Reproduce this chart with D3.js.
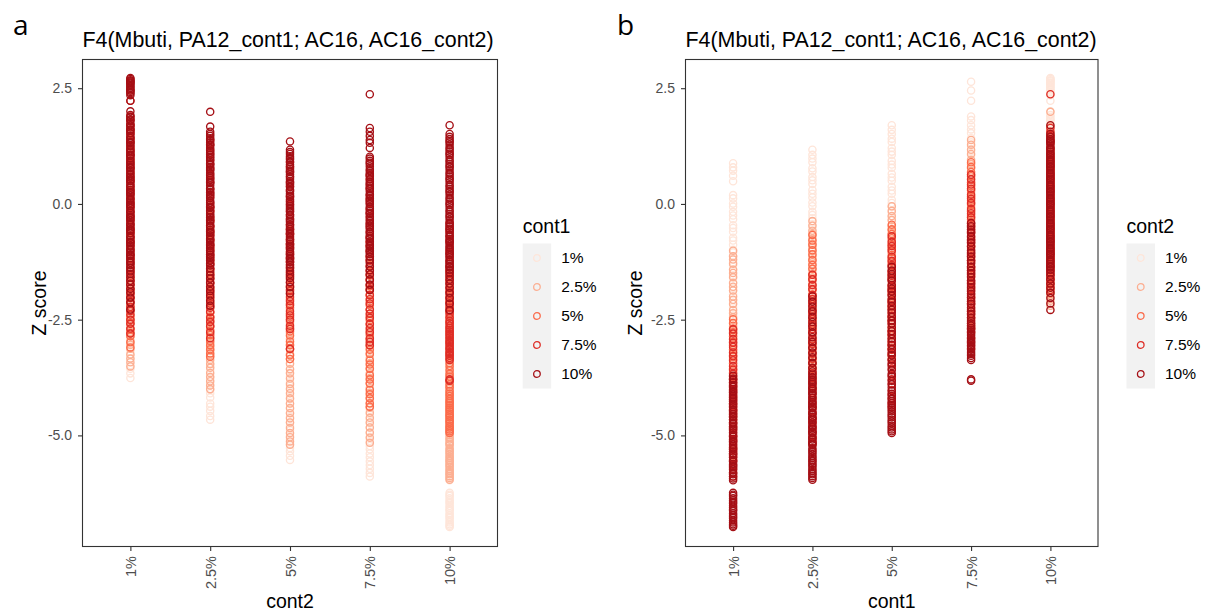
<!DOCTYPE html>
<html>
<head>
<meta charset="utf-8">
<script src="https://cdn.jsdelivr.net/npm/d3@7"></script>
<style>
  body { margin: 0; background: #ffffff; }
  svg text { font-family: "Liberation Sans", Arial, Helvetica, sans-serif; }
</style>
</head>
<body>
<svg id="chart" width="1205" height="613"></svg>
<script>
// Contamination levels (shared by cont1 and cont2)
const levels = ["1%", "2.5%", "5%", "7.5%", "10%"];
const levelColors = ["#fee5d9", "#fcae91", "#fb6a4a", "#de2d26", "#a50f15"];
const zTicks = [2.5, 0, -2.5, -5];
const zTickLabels = ["2.5", "0.0", "-2.5", "-5.0"];

// Z scores for cont1 = 1%; one list per cont2 level
const zCont1At1 = [
  [0.88, 0.79, 0.72, 0.61, 0.49, 0.19, 0.12, 0.01, -0.06, -0.17, -0.25, -0.33, -0.46, -0.52, -0.60, -0.73, -0.79, -0.88, -0.99, -1.05, -1.14, -1.26, -1.33, -1.41, -1.54, -1.60, -1.69, -1.81, -1.87, -1.95, -2.08, -2.14, -2.23, -2.35, -2.41, -2.50, -2.63, -2.70, -2.78, -2.91, -2.97, -3.06, -3.19, -3.27, -3.35, -3.48, -3.56, -3.66, -3.76],
  [-1.01, -1.13, -1.20, -1.29, -1.42, -1.49, -1.58, -1.71, -1.79, -1.87, -2.00, -2.07, -2.16, -2.29, -2.36, -2.45, -2.58, -2.64, -2.74, -2.86, -2.93, -3.03, -3.15, -3.22, -3.31, -3.44, -3.51, -3.60, -3.73, -3.80, -3.89, -4.02, -4.09, -4.18, -4.31, -4.38, -4.47, -4.58, -4.66],
  [-2.49, -2.57, -2.69, -2.77, -2.86, -2.98, -3.06, -3.15, -3.27, -3.35, -3.44, -3.56, -3.64, -3.73, -3.85, -3.93, -4.02, -4.14, -4.22, -4.31, -4.43, -4.51, -4.60, -4.72, -4.80, -4.89, -5.01, -5.09, -5.18, -5.27, -5.34, -5.44, -5.53],
  [-2.71, -2.80, -2.92, -3.00, -3.09, -3.21, -3.29, -3.38, -3.50, -3.58, -3.67, -3.79, -3.87, -3.96, -4.08, -4.16, -4.25, -4.37, -4.45, -4.54, -4.66, -4.74, -4.83, -4.95, -5.03, -5.12, -5.23, -5.30, -5.39, -5.47, -5.56, -5.64, -5.72, -5.81, -5.89],
  [-3.71, -3.77, -3.80, -3.85, -3.91, -3.95, -4.00, -4.04, -4.07, -4.12, -4.18, -4.22, -4.27, -4.31, -4.34, -4.39, -4.45, -4.49, -4.54, -4.58, -4.61, -4.66, -4.72, -4.76, -4.81, -4.85, -4.88, -4.93, -4.99, -5.03, -5.08, -5.12, -5.15, -5.20, -5.26, -5.30, -5.35, -5.39, -5.42, -5.47, -5.53, -5.57, -5.62, -5.66, -5.69, -5.74, -5.80, -5.84, -5.89, -5.93, -5.97, -6.24, -6.28, -6.31, -6.36, -6.40, -6.44, -6.47, -6.52, -6.56, -6.60, -6.63, -6.68, -6.72, -6.76, -6.79, -6.84, -6.88, -6.92, -6.95, -6.98]
];

// Z scores for cont1 = 2.5%
const zCont1At2_5 = [
  [1.17, 1.06, 0.98, 0.90, 0.77, 0.70, 0.58, 0.51, 0.43, 0.30, 0.22, 0.14, 0.03, -0.05, -0.17, -0.24, -0.31, -0.44, -0.53, -0.61, -0.70, -0.82, -0.89, -0.97, -1.10, -1.18, -1.25, -1.37, -1.46, -1.55, -1.63, -1.74, -1.83, -1.90, -2.02, -2.11, -2.18, -2.30, -2.39, -2.47, -2.57, -2.68, -2.76, -2.85, -2.96, -3.04, -3.13, -3.25, -3.34, -3.42, -3.51],
  [-0.37, -0.47, -0.58, -0.65, -0.75, -0.86, -0.94, -1.02, -1.14, -1.22, -1.30, -1.41, -1.50, -1.59, -1.68, -1.79, -1.86, -1.95, -2.07, -2.15, -2.24, -2.34, -2.43, -2.53, -2.61, -2.72, -2.81, -2.88, -3.00, -3.09, -3.17, -3.27, -3.37, -3.46, -3.54, -3.65, -3.74, -3.83, -3.92, -4.00],
  [-0.67, -0.79, -0.88, -1.00, -1.09, -1.21, -1.32, -1.40, -1.53, -1.62, -1.75, -1.85, -1.96, -2.05, -2.17, -2.28, -2.37, -2.49, -2.60, -2.71, -2.80, -2.92, -3.03, -3.13, -3.24, -3.35, -3.45, -3.57, -3.66, -3.77, -3.89, -3.99, -4.09, -4.20, -4.31, -4.41, -4.52, -4.63, -4.72, -4.84, -4.95, -5.04, -5.13, -5.20],
  [-1.53, -1.63, -1.75, -1.84, -1.97, -2.06, -2.16, -2.29, -2.38, -2.48, -2.61, -2.70, -2.80, -2.93, -3.02, -3.12, -3.23, -3.34, -3.44, -3.55, -3.66, -3.76, -3.87, -3.98, -4.08, -4.19, -4.30, -4.40, -4.51, -4.62, -4.72, -4.83, -4.94, -5.05, -5.16],
  [-2.00, -2.11, -2.22, -2.32, -2.44, -2.55, -2.65, -2.77, -2.88, -2.98, -3.10, -3.21, -3.31, -3.43, -3.54, -3.62, -3.69, -3.74, -3.80, -3.84, -3.89, -3.95, -3.99, -4.04, -4.09, -4.13, -4.18, -4.24, -4.28, -4.33, -4.37, -4.40, -4.45, -4.51, -4.55, -4.60, -4.64, -4.67, -4.72, -4.78, -4.82, -4.87, -4.91, -4.94, -4.99, -5.05, -5.09, -5.14, -5.18, -5.21, -5.28, -5.32, -5.36, -5.40, -5.45, -5.49, -5.53, -5.56, -5.60, -5.64, -5.68, -5.73, -5.77, -5.81, -5.84, -5.88, -5.92, -5.96]
];

// Z scores for cont1 = 5%
const zCont1At5 = [
  [1.70, 1.60, 1.51, 1.41, 1.34, 1.21, 1.13, 1.06, 0.93, 0.85, 0.78, 0.65, 0.57, 0.50, 0.37, 0.29, 0.22, 0.09, 0.02, -0.06, -0.19, -0.27, -0.34, -0.47, -0.55, -0.62, -0.75, -0.83, -0.90, -1.03, -1.11, -1.18, -1.31, -1.39, -1.46, -1.59, -1.67, -1.74, -1.87, -1.95, -2.02, -2.15, -2.23, -2.30, -2.43, -2.51, -2.58, -2.71, -2.79, -2.86, -2.99, -3.10],
  [-0.05, -0.15, -0.26, -0.35, -0.48, -0.57, -0.66, -0.79, -0.88, -0.97, -1.10, -1.19, -1.28, -1.41, -1.50, -1.59, -1.72, -1.81, -1.90, -2.03, -2.12, -2.21, -2.34, -2.43, -2.52, -2.65, -2.74, -2.83, -2.96, -3.05, -3.14, -3.23, -3.30],
  [-0.45, -0.55, -0.65, -0.74, -0.87, -0.95, -1.04, -1.17, -1.25, -1.34, -1.47, -1.55, -1.64, -1.77, -1.85, -1.94, -2.07, -2.15, -2.24, -2.37, -2.45, -2.54, -2.67, -2.75, -2.84, -2.97, -3.05, -3.14, -3.27, -3.35],
  [-0.70, -0.82, -0.91, -1.00, -1.14, -1.23, -1.32, -1.46, -1.55, -1.64, -1.78, -1.87, -1.96, -2.10, -2.19, -2.28, -2.42, -2.51, -2.60, -2.74, -2.83, -2.92, -3.06, -3.15, -3.24, -3.38, -3.47, -3.56, -3.70, -3.79, -3.88, -4.02, -4.11, -4.20, -4.31, -4.38],
  [-1.36, -1.44, -1.52, -1.60, -1.66, -1.75, -1.83, -1.89, -1.98, -2.06, -2.12, -2.21, -2.29, -2.35, -2.44, -2.52, -2.58, -2.67, -2.75, -2.81, -2.90, -2.98, -3.04, -3.13, -3.21, -3.27, -3.36, -3.44, -3.50, -3.59, -3.67, -3.73, -3.82, -3.90, -3.96, -4.04, -4.10, -4.15, -4.21, -4.26, -4.30, -4.35, -4.40, -4.44, -4.48, -4.53, -4.57, -4.61, -4.66, -4.70, -4.74, -4.79, -4.83, -4.87, -4.91, -4.95]
];

// Z scores for cont1 = 7.5%
const zCont1At7_5 = [
  [2.64, 2.45, 2.23, 1.89, 1.81, 1.70, 1.61, 1.53, 1.42, 1.33, 1.25, 1.14, 1.05, 0.97, 0.86, 0.77, 0.69, 0.58, 0.49, 0.41, 0.30, 0.21, 0.13, 0.02, -0.07, -0.15, -0.26, -0.35, -0.43, -0.54, -0.63, -0.71, -0.82, -0.91, -0.99, -1.10, -1.19, -1.27, -1.38, -1.47, -1.55, -1.66, -1.75, -1.83, -1.94, -2.03, -2.11, -2.22, -2.31, -2.39, -2.50, -2.59, -2.69, -2.80],
  [1.38, 1.28, 1.17, 1.08, 0.95, 0.86, 0.77, 0.64, 0.55, 0.46, 0.33, 0.24, 0.15, 0.02, -0.07, -0.16, -0.29, -0.38, -0.47, -0.60, -0.69, -0.78, -0.91, -1.00, -1.09, -1.22, -1.31, -1.40, -1.53, -1.62, -1.71, -1.84, -1.93, -2.02, -2.15, -2.24, -2.33, -2.46, -2.55, -2.64, -2.77, -2.90],
  [0.90, 0.80, 0.69, 0.60, 0.47, 0.38, 0.29, 0.16, 0.07, -0.02, -0.15, -0.24, -0.33, -0.46, -0.55, -0.64, -0.77, -0.86, -0.95, -1.08, -1.17, -1.26, -1.39, -1.48, -1.57, -1.70, -1.79, -1.88, -2.01, -2.10, -2.19, -2.32, -2.41, -2.50, -2.63, -2.70, -3.13],
  [0.63, 0.53, 0.42, 0.33, 0.20, 0.11, 0.02, -0.11, -0.20, -0.29, -0.42, -0.51, -0.60, -0.73, -0.82, -0.91, -1.04, -1.13, -1.22, -1.35, -1.44, -1.53, -1.66, -1.75, -1.84, -1.97, -2.06, -2.15, -2.28, -2.37, -2.46, -2.59, -2.68, -2.77, -2.90, -2.98, -3.05],
  [-0.41, -0.48, -0.56, -0.62, -0.70, -0.78, -0.84, -0.92, -1.00, -1.06, -1.14, -1.22, -1.28, -1.36, -1.44, -1.50, -1.58, -1.66, -1.72, -1.80, -1.88, -1.94, -2.02, -2.10, -2.16, -2.24, -2.32, -2.38, -2.46, -2.53, -2.58, -2.63, -2.68, -2.72, -2.76, -2.81, -2.85, -2.89, -2.94, -2.98, -3.02, -3.07, -3.11, -3.15, -3.20, -3.24, -3.28, -3.33, -3.37, -3.79, -3.82]
];

// Z scores for cont1 = 10%
const zCont1At10 = [
  [2.72, 2.70, 2.67, 2.65, 2.62, 2.60, 2.57, 2.54, 2.51, 2.48, 2.45, 2.42, 2.39, 2.35, 2.23, 2.00, 1.92, 1.88, 1.83, 1.80, 1.74, 1.70, 1.65, 1.61, 1.58, 1.53, 1.47, 1.43, 1.38, 1.34, 1.31, 1.26, 1.20, 1.16, 1.11, 1.07, 1.04, 0.99, 0.93, 0.89, 0.84, 0.80, 0.77, 0.72, 0.66, 0.62, 0.57, 0.53, 0.50, 0.45, 0.39, 0.35, 0.30, 0.26, 0.23, 0.18, 0.12, 0.08, 0.03, -0.01, -0.04, -0.09, -0.15, -0.19, -0.24, -0.28, -0.31, -0.36, -0.42, -0.46, -0.51, -0.55, -0.58, -0.63, -0.69, -0.73, -0.78, -0.82, -0.85, -0.90, -0.96, -1.00, -1.05, -1.09, -1.12, -1.17, -1.23, -1.27, -1.32, -1.38, -1.44, -1.51, -1.59, -1.66, -1.74, -1.83, -1.91, -2.02, -2.13, -2.28],
  [1.99, 1.67, 1.56, 1.51, 1.47, 1.42, 1.38, 1.33, 1.29, 1.26, 1.21, 1.15, 1.11, 1.06, 1.02, 0.99, 0.94, 0.88, 0.84, 0.79, 0.75, 0.72, 0.67, 0.61, 0.57, 0.52, 0.48, 0.45, 0.40, 0.34, 0.30, 0.25, 0.21, 0.18, 0.13, 0.07, 0.03, -0.02, -0.06, -0.09, -0.14, -0.20, -0.24, -0.29, -0.33, -0.36, -0.41, -0.47, -0.51, -0.56, -0.60, -0.63, -0.68, -0.74, -0.78, -0.83, -0.87, -0.90, -0.95, -1.01, -1.05, -1.10, -1.14, -1.17, -1.22, -1.28, -1.33, -1.39, -1.46, -1.54, -1.61, -1.70, -1.79, -1.88, -1.98, -2.09, -2.20],
  [1.35, 1.17, 1.12, 1.08, 1.03, 0.99, 0.96, 0.91, 0.85, 0.81, 0.76, 0.72, 0.69, 0.64, 0.58, 0.54, 0.49, 0.45, 0.42, 0.37, 0.31, 0.27, 0.22, 0.18, 0.15, 0.10, 0.04, 0.00, -0.05, -0.09, -0.12, -0.17, -0.23, -0.27, -0.32, -0.36, -0.39, -0.44, -0.50, -0.54, -0.59, -0.63, -0.66, -0.71, -0.77, -0.81, -0.86, -0.90, -0.93, -0.98, -1.04, -1.08, -1.13, -1.17, -1.20, -1.25, -1.31, -1.37, -1.44, -1.52, -1.60, -1.69, -1.80, -1.93],
  [2.37, 1.64, 1.56, 1.47, 1.38, 1.32, 1.21, 1.02, 0.98, 0.93, 0.89, 0.86, 0.81, 0.75, 0.71, 0.66, 0.62, 0.59, 0.54, 0.48, 0.44, 0.39, 0.35, 0.32, 0.27, 0.21, 0.17, 0.12, 0.08, 0.05, 0.00, -0.06, -0.10, -0.15, -0.19, -0.22, -0.27, -0.33, -0.37, -0.42, -0.46, -0.49, -0.54, -0.60, -0.64, -0.69, -0.73, -0.76, -0.81, -0.87, -0.91, -0.96, -1.00, -1.03, -1.08, -1.14, -1.20, -1.27, -1.35, -1.43, -1.52, -1.63, -1.74, -1.86],
  [1.70, 1.51, 1.45, 1.40, 1.36, 1.33, 1.28, 1.22, 1.18, 1.13, 1.09, 1.06, 1.01, 0.95, 0.91, 0.86, 0.82, 0.79, 0.74, 0.68, 0.64, 0.59, 0.55, 0.52, 0.47, 0.41, 0.37, 0.32, 0.28, 0.25, 0.20, 0.14, 0.10, 0.05, 0.01, -0.02, -0.07, -0.13, -0.17, -0.22, -0.26, -0.29, -0.34, -0.40, -0.44, -0.49, -0.53, -0.56, -0.61, -0.67, -0.71, -0.76, -0.80, -0.83, -0.88, -0.94, -0.98, -1.03, -1.07, -1.10, -1.15, -1.21, -1.25, -1.30, -1.34, -1.37, -1.42, -1.48, -1.55, -1.63, -1.72, -1.81, -1.92, -2.03, -2.15, -2.29]
];

// Long table: one row per (cont1, cont2, Z), ordered by cont1 then cont2
const byCont1 = [zCont1At1, zCont1At2_5, zCont1At5, zCont1At7_5, zCont1At10];
const rows = [];
byCont1.forEach((perCont2, i) => {
  perCont2.forEach((zs, j) => {
    zs.forEach(z => rows.push({ cont1: levels[i], cont2: levels[j], z }));
  });
});

const svg = d3.select("#chart");
const color = d3.scaleOrdinal().domain(levels).range(levelColors);

const plotTop = 59.5, plotBottom = 546.5;
const y = d3.scaleLinear().domain([-7.40, 3.12]).range([plotBottom, plotTop]);

const title = "F4(Mbuti, PA12_cont1; AC16, AC16_cont2)";

function drawPanel(cfg) {
  const g = svg.append("g");
  const x = d3.scalePoint().domain(levels).range([cfg.x0, cfg.x1]).padding(0.6);

  // panel tag
  g.append("text")
    .attr("x", cfg.tagX).attr("y", 35)
    .style("font-family", "'Open Sans', 'Liberation Sans', sans-serif")
    .style("font-size", "28px").attr("fill", "#000")
    .text(cfg.tag);

  // title
  g.append("text")
    .attr("x", cfg.x0).attr("y", 46.5)
    .style("font-size", "21.4px").attr("fill", "#000")
    .text(title);

  // points
  g.append("g").selectAll("circle")
    .data(rows)
    .join("circle")
    .attr("cx", d => x(d[cfg.xKey]))
    .attr("cy", d => y(d.z))
    .attr("r", 3.6)
    .attr("fill", "none")
    .attr("stroke", d => color(d[cfg.colorKey]))
    .attr("stroke-width", 1.35);

  // frame
  g.append("rect")
    .attr("x", cfg.x0).attr("y", plotTop)
    .attr("width", cfg.x1 - cfg.x0).attr("height", plotBottom - plotTop)
    .attr("fill", "none").attr("stroke", "#333333").attr("stroke-width", 1.1);

  // y axis
  const yAxis = g.append("g")
    .attr("transform", `translate(${cfg.x0},0)`)
    .call(d3.axisLeft(y).tickValues(zTicks).tickSize(4.5).tickPadding(6)
      .tickFormat((d, k) => zTickLabels[k]));
  yAxis.select(".domain").remove();
  yAxis.selectAll("line").attr("stroke", "#333333").attr("stroke-width", 1.1);
  yAxis.selectAll("text").attr("fill", "#4d4d4d").style("font-size", "14px")
    .style("font-family", "'Liberation Sans', Arial, sans-serif");

  // x axis with vertical labels
  const xAxis = g.append("g")
    .attr("transform", `translate(0,${plotBottom})`)
    .call(d3.axisBottom(x).tickSize(4.5).tickPadding(3));
  xAxis.select(".domain").remove();
  xAxis.selectAll("line").attr("stroke", "#333333").attr("stroke-width", 1.1);
  xAxis.selectAll("text")
    .attr("transform", "rotate(-90)")
    .attr("x", -9.5).attr("y", 0).attr("dy", "0.35em")
    .attr("text-anchor", "end")
    .attr("fill", "#4d4d4d").style("font-size", "14.5px")
    .style("font-family", "'Liberation Sans', Arial, sans-serif");

  // axis titles
  g.append("text")
    .attr("x", (cfg.x0 + cfg.x1) / 2).attr("y", 608)
    .attr("text-anchor", "middle")
    .style("font-size", "19.5px").attr("fill", "#000")
    .text(cfg.xTitle);
  g.append("text")
    .attr("transform", `translate(${cfg.yTitleX},${(plotTop + plotBottom) / 2}) rotate(-90)`)
    .attr("text-anchor", "middle")
    .style("font-size", "19.5px").attr("fill", "#000")
    .text("Z score");

  // legend
  const lg = g.append("g").attr("transform", `translate(${cfg.legendX},0)`);
  lg.append("text").attr("x", 0).attr("y", 233)
    .style("font-size", "19.5px").attr("fill", "#000")
    .text(cfg.legendTitle);
  lg.append("rect").attr("x", 0).attr("y", 243.5)
    .attr("width", 28.5).attr("height", 145)
    .attr("fill", "#f2f2f2");
  const keys = lg.selectAll("g.key").data(levels).join("g")
    .attr("class", "key")
    .attr("transform", (d, k) => `translate(0,${258 + 29 * k})`);
  keys.append("circle")
    .attr("cx", 14.25).attr("cy", 0).attr("r", 3.3)
    .attr("fill", "none").attr("stroke", d => color(d)).attr("stroke-width", 1.3);
  keys.append("text")
    .attr("x", 38.5).attr("y", 0).attr("dy", "0.35em")
    .style("font-size", "15.5px").attr("fill", "#000")
    .text(d => d);
}

drawPanel({ tag: "a", tagX: 13, x0: 82.5, x1: 497.5, xKey: "cont2", colorKey: "cont1",
  xTitle: "cont2", legendTitle: "cont1", legendX: 522.7, yTitleX: 46 });
drawPanel({ tag: "b", tagX: 617, x0: 685.5, x1: 1098, xKey: "cont1", colorKey: "cont2",
  xTitle: "cont1", legendTitle: "cont2", legendX: 1126.5, yTitleX: 642 });
</script>
</body>
</html>
